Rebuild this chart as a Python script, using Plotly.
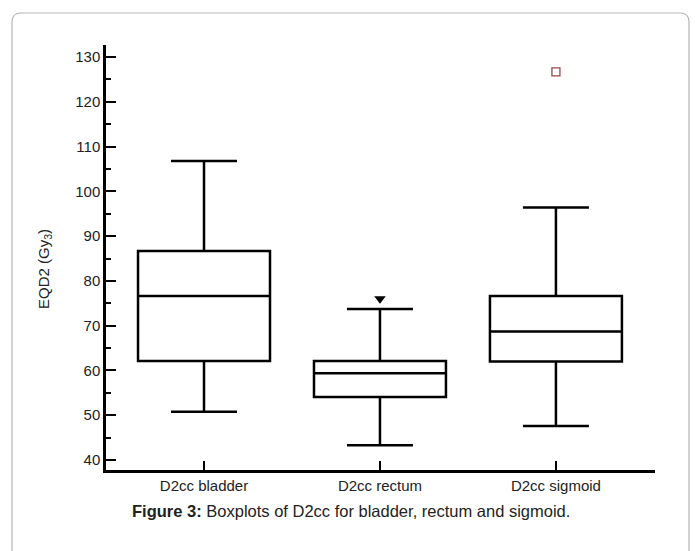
import plotly.graph_objects as go

categories = ["D2cc bladder", "D2cc rectum", "D2cc sigmoid"]
lower_whisker = [50.8, 43.3, 47.6]
q1_values = [62.1, 54.1, 62.0]
median_values = [76.6, 59.4, 68.7]
q3_values = [86.7, 62.1, 76.6]
upper_whisker = [106.8, 73.7, 96.4]
# outliers
rectum_outlier = [76.0]
sigmoid_outlier = [126.7]

W, H = 695, 551
L, R, T, B = 106, 655, 45, 470  # plot area in pixels

def px(xpix):
    return (xpix - L) / (R - L)

def py(ypix):
    return (B - ypix) / (B - T)

FONT = "Arial, Liberation Sans, sans-serif"

fig = go.Figure()
xs = list(range(len(categories)))
fig.add_trace(go.Box(
    x=xs, q1=q1_values, median=median_values, q3=q3_values,
    lowerfence=lower_whisker, upperfence=upper_whisker,
    width=0.75, whiskerwidth=0.5,
    fillcolor="rgba(255,255,255,0)",
    line=dict(color="black", width=2.5),
    boxpoints=False, showlegend=False, hoverinfo="skip"))

fig.add_trace(go.Scatter(
    x=[1] * len(rectum_outlier), y=rectum_outlier, mode="markers",
    marker=dict(symbol="triangle-down", size=10, color="black"),
    showlegend=False))
fig.add_trace(go.Scatter(
    x=[2] * len(sigmoid_outlier), y=sigmoid_outlier, mode="markers",
    marker=dict(symbol="square-open", size=8, color="#9a4848",
                line=dict(width=1.3)),
    showlegend=False))

# Rounded outer frame
x0, x1, y0, y1, r = 12, 689, 13, 600, 9
path = (f"M {px(x0)},{py(y1)} L {px(x0)},{py(y0 + r)} "
        f"Q {px(x0)},{py(y0)} {px(x0 + r)},{py(y0)} "
        f"L {px(x1 - r)},{py(y0)} Q {px(x1)},{py(y0)} {px(x1)},{py(y0 + r)} "
        f"L {px(x1)},{py(y1)}")
fig.add_shape(type="path", path=path, xref="paper", yref="paper",
              line=dict(color="#b5b5b5", width=1.2), layer="below")

fig.add_annotation(
    text="<b>Figure 3:</b> Boxplots of D2cc for bladder, rectum and sigmoid.",
    x=px(351), y=py(511), xref="paper", yref="paper", showarrow=False,
    font=dict(family=FONT, size=16.5, color="#222"), xanchor="center", yanchor="middle")

fig.add_annotation(
    text="EQD2 (Gy<sub>3</sub>)", textangle=-90,
    x=px(44), y=py(269), xref="paper", yref="paper", showarrow=False,
    font=dict(family=FONT, size=15, color="#222"), xanchor="center", yanchor="middle")

fig.update_layout(
    width=W, height=H,
    margin=dict(l=L, r=W - R, t=T, b=H - B, autoexpand=False),
    paper_bgcolor="white", plot_bgcolor="white",
    boxmode="overlay",
    font=dict(family=FONT, size=15, color="#222"),
    xaxis=dict(range=[-0.557, 2.563], tickmode="array", tickvals=xs,
               ticktext=categories, ticks="inside", ticklen=9, tickwidth=2,
               tickcolor="black", showline=True, linecolor="black", linewidth=2.5,
               showgrid=False, zeroline=False, fixedrange=True,
               tickfont=dict(family=FONT, size=15, color="#222")),
    yaxis=dict(range=[37.77, 132.68], tickmode="array",
               tickvals=[40, 50, 60, 70, 80, 90, 100, 110, 120, 130],
               ticks="inside", ticklen=10, tickwidth=2, tickcolor="black",
               minor=dict(ticks="inside", ticklen=5, tickwidth=2, tickcolor="black",
                          tickvals=[45, 55, 65, 75, 85, 95, 105, 115, 125], showgrid=False),
               showline=True, linecolor="black", linewidth=2.5,
               showgrid=False, zeroline=False, fixedrange=True,
               tickfont=dict(family=FONT, size=15, color="#222")),
)

fig.write_html("out.html")
